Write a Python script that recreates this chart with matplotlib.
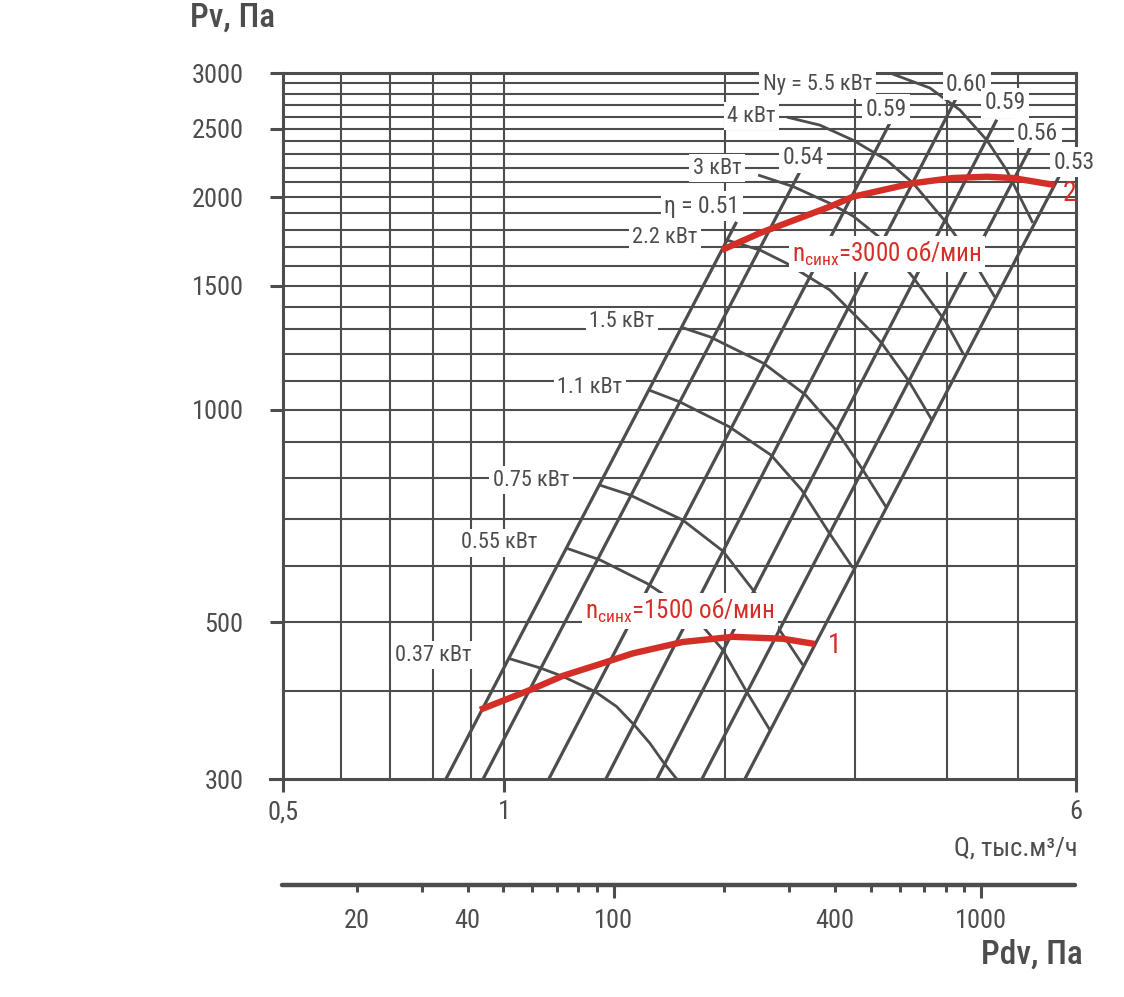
import matplotlib
matplotlib.use('Agg')
import matplotlib.pyplot as plt
from matplotlib.ticker import NullLocator
from matplotlib.lines import Line2D

plt.rcParams['font.family'] = ['Roboto Condensed', 'DejaVu Sans']
plt.rcParams['mathtext.fontset'] = 'custom'
plt.rcParams['mathtext.rm'] = 'Roboto Condensed'

GRAY = '#4d4d4d'
RED = '#d32f27'

# grid
q_grid = [0.6, 0.7, 0.8, 0.9, 1, 2, 3, 4, 5]
p_grid = list(range(400, 3000, 100))

# efficiency lines (P = 300 at bottom)
eta_labels = ['η = 0.51', '0.54', '0.59', '0.60', '0.59', '0.56', '0.53']
eta_q_bot = [0.833, 0.936, 1.150, 1.375, 1.614, 1.858, 2.126]
eta_q_top = [2.071, 2.533, 3.349, 4.130, 4.681, 5.205, 5.722]
eta_p_top = [1846, 2187, 2549, 2774, 2576, 2357, 2165]
eta_lab_q = [1.858, 2.55, 3.31, 4.26, 4.80, 5.32, 5.96]
eta_lab_p = [1944, 2274, 2667, 2885, 2721, 2466, 2244]

# power curves Ny
pw_labels = ['0.37 кВт', '0.55 кВт', '0.75 кВт', '1.1 кВт', '1.5 кВт',
             '2.2 кВт', '3 кВт', '4 кВт', 'Ny = 5.5 кВт']
pw_q = [
    [1.018, 1.119, 1.203, 1.329, 1.422, 1.506, 1.579, 1.646, 1.717],
    [1.215, 1.350, 1.563, 1.664, 1.846, 1.984, 2.137, 2.299],
    [1.346, 1.481, 1.750, 1.984, 2.180, 2.550],
    [1.573, 1.731, 2.022, 2.307, 2.540, 2.762, 2.983],
    [1.750, 1.905, 2.254, 2.571, 2.829, 3.077, 3.307],
    [2.008, 2.229, 2.422, 2.775, 3.145, 3.262, 3.546, 3.819],
    [2.216, 2.474, 2.775, 2.983, 3.276, 3.599, 3.990, 4.222],
    [2.425, 2.689, 2.983, 3.314, 3.599, 3.999, 4.343, 4.652],
    [3.349, 3.796, 4.170, 4.537, 4.826, 5.031, 5.241],
]
pw_p = [
    [444, 431, 419, 399, 380, 357, 337, 317, 300],
    [637, 613, 568, 544, 499, 457, 399, 352],
    [783, 758, 698, 631, 556, 435],
    [1067, 1027, 947, 863, 770, 672, 597],
    [1307, 1269, 1164, 1050, 936, 822, 729],
    [1740, 1684, 1613, 1478, 1297, 1244, 1102, 968],
    [2151, 2071, 1961, 1882, 1740, 1542, 1332, 1196],
    [2598, 2531, 2410, 2259, 2096, 1840, 1631, 1445],
    [3000, 2857, 2659, 2410, 2187, 2004, 1840],
]
pw_lab_q = [0.800, 0.984, 1.087, 1.308, 1.446, 1.655, 1.95, 2.17, 2.67]
pw_lab_p = [449, 648, 795, 1074, 1332, 1757, 2200, 2607, 2885]

# fan curves
n1_q = [0.927, 1.084, 1.202, 1.337, 1.497, 1.750, 2.047, 2.394, 2.647]
n1_p = [376, 401, 420, 435, 452, 469, 477, 474, 466]
n2_q = [1.977, 2.229, 2.775, 2.983, 3.599, 4.078, 4.537, 4.922, 5.61]
n2_p = [1684, 1780, 1940, 2004, 2094, 2130, 2139, 2130, 2082]

y_ticks = [300, 500, 1000, 1500, 2000, 2500, 3000]
x_ticks = [0.5, 1, 6]
x_ticklabels = ['0,5', '1', '6']

pdv_major = [100, 1000]
pdv_minor = [20, 30, 40, 50, 60, 70, 80, 90, 200, 300, 400, 500, 600, 700, 800, 900]
pdv_labeled = [20, 40, 400]
pdv_k = 50.0  # Pdv = k * Q^2

fig = plt.figure(figsize=(11.24, 9.97), dpi=100)
ax = fig.add_axes([283 / 1124, 218 / 997, 793 / 1124, 706 / 997])
ax.set_xscale('log')
ax.set_yscale('log')
ax.set_xlim(0.5, 6)
ax.set_ylim(300, 3000)

for q in q_grid:
    ax.axvline(q, color=GRAY, lw=1.5, zorder=1)
for p in p_grid:
    ax.axhline(p, color=GRAY, lw=1.5, zorder=1)

for qb, qt, pt in zip(eta_q_bot, eta_q_top, eta_p_top):
    ax.plot([qb, qt], [300, pt], color=GRAY, lw=2.3, zorder=2, solid_capstyle='butt')

for qs, ps in zip(pw_q, pw_p):
    ax.plot(qs, ps, color=GRAY, lw=2.0, zorder=2, solid_capstyle='butt',
            solid_joinstyle='round')

ax.plot(n1_q, n1_p, color=RED, lw=4.6, zorder=4, solid_capstyle='butt', solid_joinstyle='round')
ax.plot(n2_q, n2_p, color=RED, lw=4.6, zorder=4, solid_capstyle='butt', solid_joinstyle='round')

box = dict(fc='white', ec='none', pad=2.5)
for s, q, p in zip(eta_labels, eta_lab_q, eta_lab_p):
    ax.text(q, p, s, ha='center', va='center', fontsize=17, color=GRAY, bbox=box, zorder=6)
for s, q, p in zip(pw_labels, pw_lab_q, pw_lab_p):
    ax.text(q, p, s, ha='center', va='center', fontsize=16, color=GRAY, bbox=box, zorder=6)

ax.text(1.734, 519, r'n$_{\mathregular{синх}}$=1500 об/мин', ha='center', va='center',
        fontsize=18, color=RED, bbox=box, zorder=6)
ax.text(3.317, 1662, r'n$_{\mathregular{синх}}$=3000 об/мин', ha='center', va='center',
        fontsize=18, color=RED, bbox=box, zorder=6)
ax.text(2.818, 464, '1', ha='center', va='center', fontsize=20, color=RED, zorder=6)
ax.text(5.89, 2028, '2', ha='center', va='center', fontsize=20, color=RED, zorder=6)

for sp in ax.spines.values():
    sp.set_color(GRAY)
    sp.set_linewidth(2.2)
ax.xaxis.set_minor_locator(NullLocator())
ax.yaxis.set_minor_locator(NullLocator())
ax.set_yticks(y_ticks, labels=[str(v) for v in y_ticks])
ax.set_xticks(x_ticks, labels=x_ticklabels)
ax.tick_params(axis='y', length=9.4, width=2.2, color=GRAY, pad=19, labelsize=19, labelcolor=GRAY)
ax.tick_params(axis='x', length=9.4, width=2.2, color=GRAY, pad=6, labelsize=19, labelcolor=GRAY)
ax.add_line(Line2D([-13 / 793, 0], [0, 0], transform=ax.transAxes, color=GRAY,
                   lw=2.2, clip_on=False))

# dynamic pressure scale
ax2 = fig.add_axes([282 / 1124, 112 / 997, 793 / 1124, 0.0001])
ax2.set_xscale('log')
ax2.set_xlim(pdv_k * 0.5 ** 2, pdv_k * 6 ** 2)
ax2.set_yticks([])
for side in ['left', 'right', 'top']:
    ax2.spines[side].set_visible(False)
ax2.spines['bottom'].set_color(GRAY)
ax2.spines['bottom'].set_linewidth(3.2)
ax2.spines['bottom'].set_capstyle('round')
ax2.set_xticks(pdv_major, labels=[str(v) for v in pdv_major])
ax2.set_xticks(pdv_minor, labels=[str(v) if v in pdv_labeled else '' for v in pdv_minor], minor=True)
ax2.tick_params(axis='x', which='major', length=9.4, width=2.2, color=GRAY, pad=8,
                labelsize=19, labelcolor=GRAY)
ax2.tick_params(axis='x', which='minor', length=5, width=2.2, color=GRAY, pad=12.4,
                labelsize=19, labelcolor=GRAY)

fig.text(190 / 1124, 1 - 18 / 997, 'Pv, Па', ha='left', va='center', fontsize=24,
         color=GRAY, fontweight='medium')
fig.text(1078 / 1124, 1 - 848 / 997, 'Q, тыс.м³/ч', ha='right', va='center', fontsize=19,
         color=GRAY)
fig.text(1083 / 1124, 1 - 955 / 997, 'Pdv, Па', ha='right', va='center', fontsize=24,
         color=GRAY, fontweight='medium')

fig.savefig('out.png', dpi=100, facecolor='white')
